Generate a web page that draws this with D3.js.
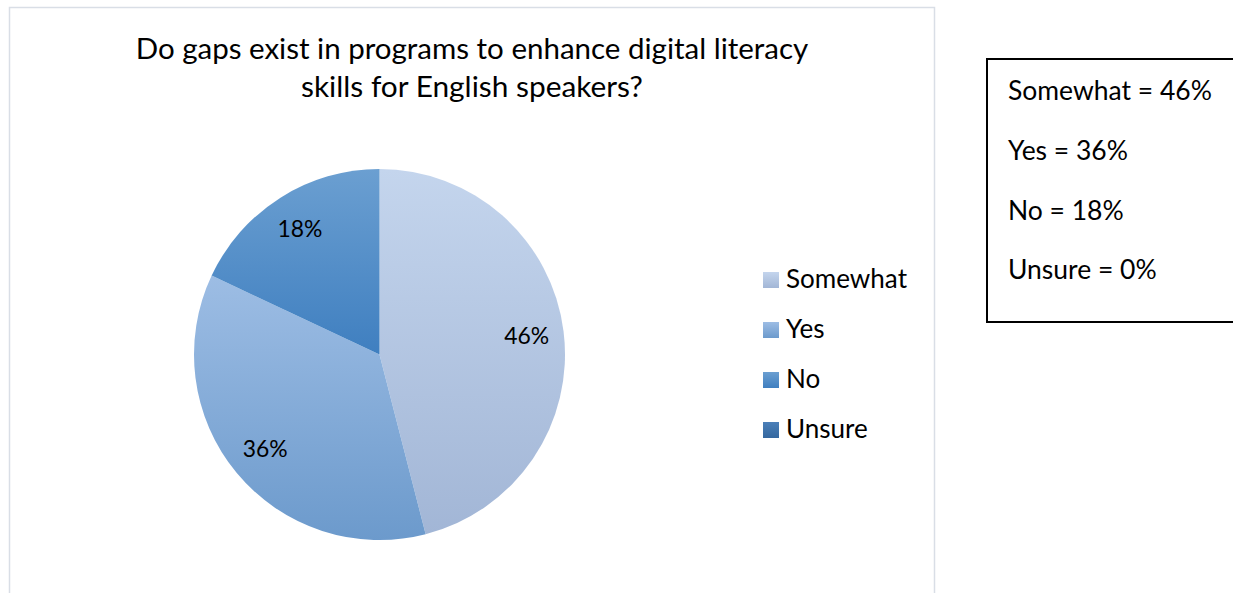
<!DOCTYPE html>
<html>
<head>
<meta charset="utf-8">
<script src="https://cdn.jsdelivr.net/npm/d3@7"></script>
<style>
  html, body { margin: 0; padding: 0; background: #fff; }
  svg { display: block; }
  text { font-family: Lato, "Open Sans", sans-serif; fill: #000; }
</style>
</head>
<body>
<svg id="chart" width="1233" height="593"></svg>
<script>
// Survey responses
const categories = ["Somewhat", "Yes", "No", "Unsure"];
const values = [46, 36, 18, 0];
const titleLines = ["Do gaps exist in programs to enhance digital literacy", "skills for English speakers?"];
const noteLines = categories.map((c, i) => `${c} = ${values[i]}%`);

// Gradient stops per slice (top, bottom)
const sliceColors = [
  ["#c4d5ed", "#a2b6d6"],
  ["#9dbde4", "#6c9acc"],
  ["#6b9fd1", "#3f7fc0"],
  ["#4b7fb8", "#34679f"]
];

const svg = d3.select("#chart");
const defs = svg.append("defs");

sliceColors.forEach((c, i) => {
  const g = defs.append("linearGradient")
    .attr("id", "grad" + i)
    .attr("x1", 0).attr("y1", 0).attr("x2", 0).attr("y2", 1);
  g.append("stop").attr("offset", "0%").attr("stop-color", c[0]);
  g.append("stop").attr("offset", "100%").attr("stop-color", c[1]);
});

// Chart frame
svg.append("rect")
  .attr("x", 9.5).attr("y", 7.5)
  .attr("width", 925).attr("height", 620)
  .attr("fill", "#fff")
  .attr("stroke", "#d9dee6").attr("stroke-width", 1.5);

// Font size that makes `str` span `target` pixels
function sizeFor(str, target, base = 20) {
  const t = svg.append("text").attr("font-size", base).text(str);
  const w = t.node().getComputedTextLength();
  t.remove();
  return base * target / w;
}

// Title
const titleWidths = [673, 342];
titleLines.forEach((t, i) => {
  svg.append("text")
    .attr("x", 472).attr("y", 59 + i * 38)
    .attr("text-anchor", "middle")
    .attr("font-size", sizeFor(t, titleWidths[i]))
    .text(t);
});

// Pie
const cx = 379.5, cy = 354.5, radius = 185.5;
const pie = d3.pie().sort(null).value(d => d.value);
const arcs = pie(categories.map((c, i) => ({ name: c, value: values[i], idx: i })));
const arc = d3.arc().innerRadius(0).outerRadius(radius);
const labelR = radius * 0.8;
const labelArc = d3.arc().innerRadius(labelR).outerRadius(labelR);

const pg = svg.append("g").attr("transform", `translate(${cx},${cy})`);
pg.selectAll("path.slice")
  .data(arcs.filter(d => d.data.value > 0))
  .join("path")
  .attr("class", "slice")
  .attr("d", arc)
  .attr("fill", d => `url(#grad${d.data.idx})`);

const labelSize = sizeFor("46%", 45);
pg.selectAll("text.lbl")
  .data(arcs.filter(d => d.data.value > 0))
  .join("text")
  .attr("class", "lbl")
  .attr("transform", d => `translate(${labelArc.centroid(d)})`)
  .attr("text-anchor", "middle")
  .attr("dy", "0.35em")
  .attr("font-size", labelSize)
  .text(d => d.data.value + "%");

// Legend
const legend = svg.append("g");
const lgY = d3.scaleBand().domain(categories).range([254, 454]);
const legendSize = sizeFor("Somewhat", 121);
categories.forEach((c, i) => {
  const y = lgY(c) + lgY.bandwidth() / 2;
  legend.append("rect")
    .attr("x", 763).attr("y", y - 7)
    .attr("width", 16).attr("height", 16)
    .attr("fill", `url(#grad${i})`);
  legend.append("text")
    .attr("x", 786).attr("y", y)
    .attr("dy", "0.35em")
    .attr("font-size", legendSize)
    .text(c);
});

// Summary box
svg.append("rect")
  .attr("x", 987).attr("y", 59)
  .attr("width", 260).attr("height", 263)
  .attr("fill", "#fff")
  .attr("stroke", "#000").attr("stroke-width", 2);

const noteSize = sizeFor(noteLines[0], 204);
const noteY = d3.scalePoint().domain(noteLines).range([91, 270]);
noteLines.forEach(t => {
  svg.append("text")
    .attr("x", 1008).attr("y", noteY(t))
    .attr("dy", "0.35em")
    .attr("font-size", noteSize)
    .text(t);
});
</script>
</body>
</html>
